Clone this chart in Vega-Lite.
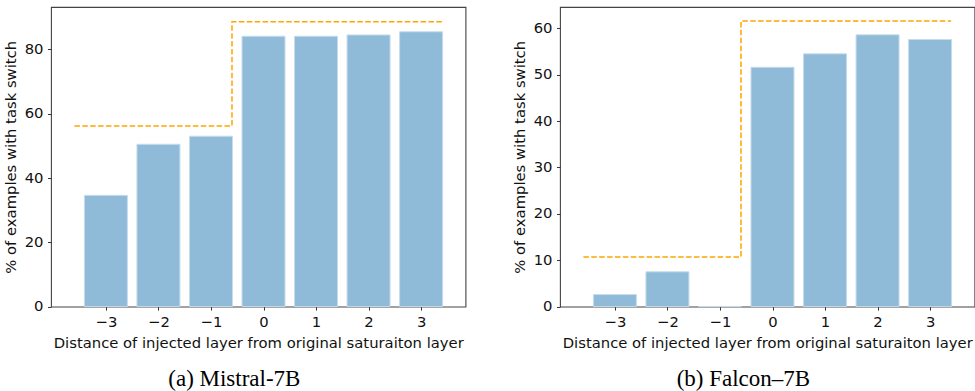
{
  "$schema": "https://vega.github.io/schema/vega-lite/v6.json",
  "background": "white",
  "padding": {"left": 2, "top": 6, "right": 0, "bottom": 0},
  "spacing": 44,
  "config": {
    "view": {"stroke": "#444", "strokeWidth": 1.1},
    "font": "DejaVu Sans",
    "axis": {
      "labelFont": "DejaVu Sans", "titleFont": "DejaVu Sans",
      "labelFontSize": 14.8, "titleFontSize": 14.8, "titleFontWeight": "normal",
      "labelColor": "#111", "titleColor": "#111",
      "tickColor": "#333", "tickSize": 3.5, "tickWidth": 1,
      "grid": false, "domain": false, "labelPadding": 4.5, "titlePadding": 6
    },
    "title": {"font": "Liberation Serif", "fontSize": 23, "fontWeight": "normal", "color": "#000", "orient": "bottom", "offset": 18, "anchor": "middle", "frame": "bounds"}
  },
  "datasets": {
    "mistral": [
      {"distance": -3, "pct": 34.6},
      {"distance": -2, "pct": 50.5},
      {"distance": -1, "pct": 53.0},
      {"distance": 0, "pct": 84.1},
      {"distance": 1, "pct": 84.1},
      {"distance": 2, "pct": 84.5},
      {"distance": 3, "pct": 85.5}
    ],
    "mistral_ref": [
      {"step": 1, "distance": -3.6, "pct": 56.2},
      {"step": 2, "distance": -0.6, "pct": 56.2},
      {"step": 3, "distance": -0.6, "pct": 88.6},
      {"step": 4, "distance": 3.4, "pct": 88.6}
    ],
    "falcon": [
      {"distance": -3, "pct": 2.6},
      {"distance": -2, "pct": 7.5},
      {"distance": -1, "pct": 0},
      {"distance": 0, "pct": 51.6},
      {"distance": 1, "pct": 54.5},
      {"distance": 2, "pct": 58.6},
      {"distance": 3, "pct": 57.6}
    ],
    "falcon_ref": [
      {"step": 1, "distance": -3.6, "pct": 10.7},
      {"step": 2, "distance": -0.6, "pct": 10.7},
      {"step": 3, "distance": -0.6, "pct": 61.6},
      {"step": 4, "distance": 3.4, "pct": 61.6}
    ]
  },
  "hconcat": [
    {
      "width": 414.5,
      "height": 299.6,
      "title": {"text": "(a) Mistral-7B"},
      "layer": [
        {
          "data": {"name": "mistral"},
          "mark": {"type": "bar", "size": 43, "color": "#8fbbd9", "stroke": "#c6dcec", "strokeWidth": 1},
          "encoding": {
            "x": {"field": "distance", "type": "quantitative",
                  "scale": {"domain": [-3.95, 3.75], "nice": false, "zero": false},
                  "axis": {"values": [-3, -2, -1, 0, 1, 2, 3], "format": "d", "title": "Distance of injected layer from original saturaiton layer"}},
            "y": {"field": "pct", "type": "quantitative",
                  "scale": {"domain": [0, 93.2], "nice": false},
                  "axis": {"values": [0, 20, 40, 60, 80], "title": "% of examples with task switch"}}
          }
        },
        {
          "data": {"name": "mistral_ref"},
          "mark": {"type": "line", "color": "#ffa500", "strokeDash": [5.5, 2.4], "strokeWidth": 1.5},
          "encoding": {
            "x": {"field": "distance", "type": "quantitative"},
            "y": {"field": "pct", "type": "quantitative"},
            "order": {"field": "step", "type": "quantitative"}
          }
        }
      ]
    },
    {
      "width": 414.5,
      "height": 299.6,
      "title": {"text": "(b) Falcon–7B"},
      "layer": [
        {
          "data": {"name": "falcon"},
          "mark": {"type": "bar", "size": 43, "color": "#8fbbd9", "stroke": "#c6dcec", "strokeWidth": 1},
          "encoding": {
            "x": {"field": "distance", "type": "quantitative",
                  "scale": {"domain": [-3.95, 3.75], "nice": false, "zero": false},
                  "axis": {"values": [-3, -2, -1, 0, 1, 2, 3], "format": "d", "title": "Distance of injected layer from original saturaiton layer"}},
            "y": {"field": "pct", "type": "quantitative",
                  "scale": {"domain": [0, 64.6], "nice": false},
                  "axis": {"values": [0, 10, 20, 30, 40, 50, 60], "title": "% of examples with task switch"}}
          }
        },
        {
          "data": {"name": "falcon_ref"},
          "mark": {"type": "line", "color": "#ffa500", "strokeDash": [5.5, 2.4], "strokeWidth": 1.5},
          "encoding": {
            "x": {"field": "distance", "type": "quantitative"},
            "y": {"field": "pct", "type": "quantitative"},
            "order": {"field": "step", "type": "quantitative"}
          }
        }
      ]
    }
  ]
}
